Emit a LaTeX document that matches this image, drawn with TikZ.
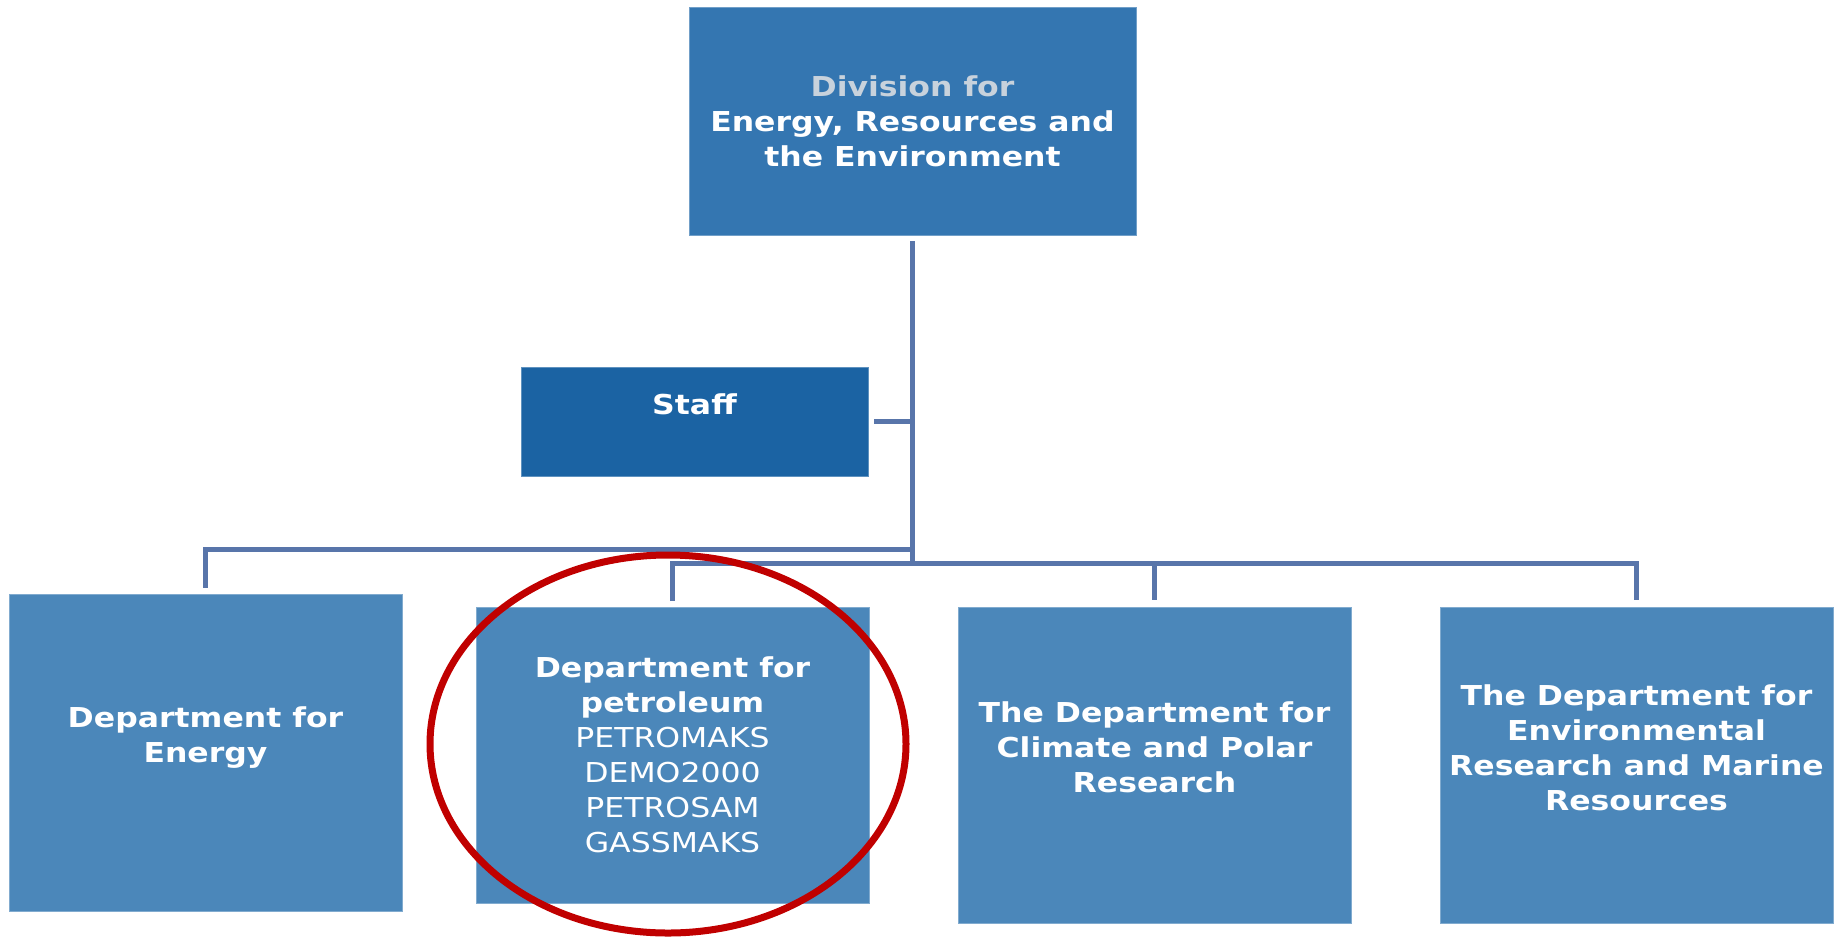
\documentclass[tikz,border=0pt]{standalone}
\usepackage{fontspec}
\setmainfont{DejaVu Sans}[FakeStretch=1.15]
\usetikzlibrary{positioning}
\definecolor{divblue}{RGB}{52,118,177}
\definecolor{staffblue}{RGB}{27,99,163}
\definecolor{deptblue}{RGB}{75,135,186}
\definecolor{linkblue}{RGB}{88,117,170}
\definecolor{greytext}{RGB}{200,210,220}
\definecolor{markred}{RGB}{192,0,0}
\begin{document}
\begin{tikzpicture}[x=1pt,y=-1pt,node distance=89pt,
  box/.style={rectangle,line width=1pt,text=white,align=center,
    inner sep=0pt,outer sep=0pt,font=\fontsize{27.4}{35}\selectfont\bfseries},
  div node/.style={box,fill=divblue,draw=white!30!divblue,
    minimum width=447pt,minimum height=228pt},
  staff node/.style={box,fill=staffblue,draw=white!30!staffblue,
    minimum width=347pt,minimum height=109pt},
  dept node/.style={box,fill=deptblue,draw=white!30!deptblue,
    minimum width=393pt,minimum height=316pt},
  link/.style={draw=linkblue,line width=5pt}]

  \useasboundingbox (0,0) rectangle (1835,937);

  \node[div node] (div) at (912.5,121)
    {{\color{greytext}Division for}\\Energy, Resources and\\the Environment};
  \node[staff node] (staff) at (694.5,421.5) {Staff\\\mbox{}};

  \node[dept node,minimum height=317pt] (energy) at (205.5,752.5)
    {Department for\\Energy\\\mbox{}};
  \node[dept node,minimum height=296pt,anchor=north west] (pet) at (476,607)
    {Department for\\petroleum\\\mdseries PETROMAKS\\\mdseries DEMO2000\\
     \mdseries PETROSAM\\\mdseries GASSMAKS};
  \node[dept node,right=89pt of pet.north east,anchor=north west] (clim)
    {The Department for\\Climate and Polar\\Research\\\mbox{}};
  \node[dept node,right=89pt of clim.north east,anchor=north west] (env)
    {The Department for\\Environmental\\Research and Marine\\Resources\\\mbox{}};

  \coordinate (jL) at ([yshift=-314pt]div.south);
  \coordinate (jR) at ([yshift=-328pt]div.south);

  \draw[link] ([yshift=-6pt]div.south) -- (jR);
  \draw[link] ([xshift=6pt]staff.east) -- (staff.east -| jL);
  \draw[link] (jL) -| ([yshift=6pt]energy.north);
  \draw[link] ([yshift=6pt]pet.north) |- (jR) -| ([yshift=7pt]env.north);
  \draw[link] (jR -| clim.north) -- ([yshift=7pt]clim.north);

  % marking round the petroleum department
  \draw[markred,line width=7pt] (668,744) ellipse [x radius=238pt,y radius=189pt];
\end{tikzpicture}
\end{document}
